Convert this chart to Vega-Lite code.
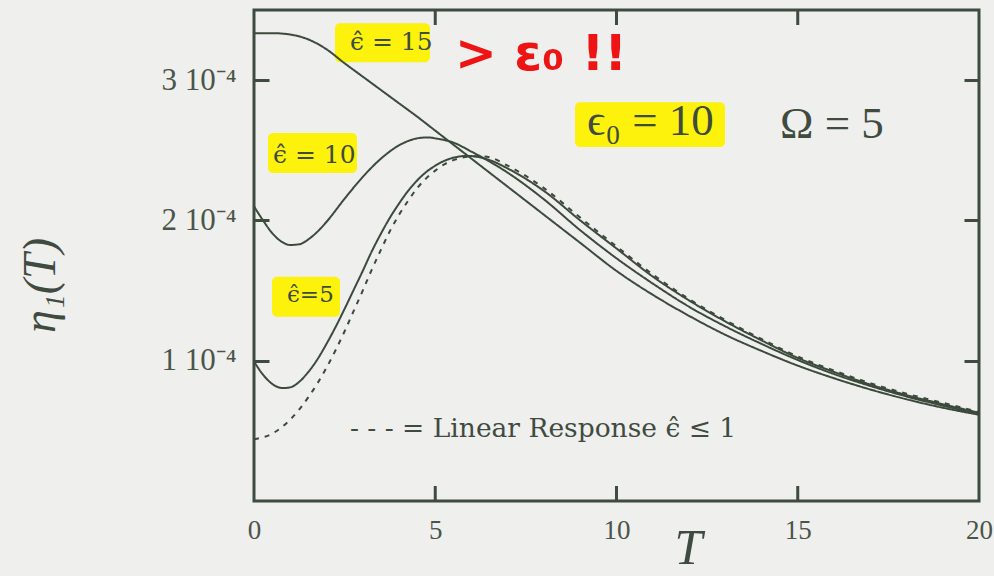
{
  "$schema": "https://vega.github.io/schema/vega-lite/v6.json",
  "width": 725,
  "height": 491,
  "autosize": {"type": "none"},
  "padding": {"left": 254, "top": 10, "right": 15, "bottom": 75},
  "background": "#efefee",
  "config": {
    "view": {"stroke": "#3e4b3e", "strokeWidth": 3},
    "font": "Liberation Serif"
  },
  "resolve": {"axis": {"x": "independent", "y": "independent"}},
  "layer": [
    {
      "description": "highlighter marks behind the curve labels",
      "data": {"values": [
        {"T0": 2.234, "T1": 4.855, "e0": 3.128e-4, "e1": 3.406e-4},
        {"T0": 0.386, "T1": 2.841, "e0": 2.338e-4, "e1": 2.623e-4},
        {"T0": 0.497, "T1": 2.372, "e0": 1.313e-4, "e1": 1.598e-4},
        {"T0": 8.855, "T1": 12.993, "e0": 2.523e-4, "e1": 2.843e-4}
      ]},
      "mark": {"type": "rect", "color": "#fcf20c", "cornerRadius": 5},
      "encoding": {
        "x": {
          "field": "T0", "type": "quantitative",
          "scale": {"domain": [0, 20], "nice": false},
          "axis": {
            "orient": "bottom", "domain": false, "ticks": false, "zindex": 1,
            "values": [0, 5, 10, 15, 20],
            "title": "T", "titleFont": "Liberation Serif", "titleFontStyle": "italic",
            "titleFontWeight": "normal", "titleFontSize": 50, "titleColor": "#3f4b3f",
            "titleX": 434, "titleY": 62, "titleBaseline": "alphabetic", "titleAlign": "center",
            "labelFont": "Liberation Serif", "labelFontSize": 27, "labelColor": "#4a5548",
            "labelPadding": 16, "labelFlush": false, "labelOverlap": false, "grid": false
          }
        },
        "x2": {"field": "T1"},
        "y": {
          "field": "e0", "type": "quantitative",
          "scale": {"domain": [0, 0.00035], "nice": false, "zero": true},
          "axis": {
            "orient": "left", "offset": -15, "domain": false, "zindex": 1,
            "values": [0.0001, 0.0002, 0.0003],
            "labelExpr": "format(datum.value * 10000, '.0f') + ' 10⁻⁴'",
            "title": "η₁(T)", "titleFont": "Liberation Serif", "titleFontStyle": "italic",
            "titleFontWeight": "normal", "titleFontSize": 46, "titleColor": "#3f4b3f",
            "titleAngle": -90, "titleX": -229, "titleY": 275,
            "titleBaseline": "middle", "titleAlign": "center",
            "labelFont": "Liberation Serif", "labelFontSize": 31, "labelColor": "#4a5548",
            "labelPadding": 18, "labelBaseline": "middle",
            "tickSize": 15, "tickWidth": 3, "tickColor": "#3e4b3e", "grid": false
          }
        },
        "y2": {"field": "e1"}
      }
    },
    {
      "description": "eta_1(T) for three field strengths and the linear-response limit",
      "data": {"values": [
        {"s": "eps15", "T": 0, "eta": 3.335e-4},
        {"s": "eps15", "T": 0.5, "eta": 3.335e-4},
        {"s": "eps15", "T": 1, "eta": 3.325e-4},
        {"s": "eps15", "T": 1.5, "eta": 3.29e-4},
        {"s": "eps15", "T": 2, "eta": 3.22e-4},
        {"s": "eps15", "T": 2.5, "eta": 3.12e-4},
        {"s": "eps15", "T": 3, "eta": 3.025e-4},
        {"s": "eps15", "T": 3.5, "eta": 2.93e-4},
        {"s": "eps15", "T": 4, "eta": 2.835e-4},
        {"s": "eps15", "T": 4.5, "eta": 2.74e-4},
        {"s": "eps15", "T": 5, "eta": 2.64e-4},
        {"s": "eps15", "T": 5.5, "eta": 2.54e-4},
        {"s": "eps15", "T": 6, "eta": 2.44e-4},
        {"s": "eps15", "T": 6.5, "eta": 2.34e-4},
        {"s": "eps15", "T": 7, "eta": 2.24e-4},
        {"s": "eps15", "T": 8, "eta": 2.04e-4},
        {"s": "eps15", "T": 9, "eta": 1.84e-4},
        {"s": "eps15", "T": 10, "eta": 1.64e-4},
        {"s": "eps15", "T": 11, "eta": 1.47e-4},
        {"s": "eps15", "T": 12, "eta": 1.32e-4},
        {"s": "eps15", "T": 13, "eta": 1.185e-4},
        {"s": "eps15", "T": 14, "eta": 1.07e-4},
        {"s": "eps15", "T": 15, "eta": 0.965e-4},
        {"s": "eps15", "T": 16, "eta": 0.875e-4},
        {"s": "eps15", "T": 17, "eta": 0.795e-4},
        {"s": "eps15", "T": 18, "eta": 0.725e-4},
        {"s": "eps15", "T": 19, "eta": 0.665e-4},
        {"s": "eps15", "T": 20, "eta": 0.615e-4},

        {"s": "eps10", "T": 0, "eta": 2.1e-4},
        {"s": "eps10", "T": 0.25, "eta": 2.0e-4},
        {"s": "eps10", "T": 0.5, "eta": 1.91e-4},
        {"s": "eps10", "T": 0.75, "eta": 1.85e-4},
        {"s": "eps10", "T": 1, "eta": 1.825e-4},
        {"s": "eps10", "T": 1.25, "eta": 1.83e-4},
        {"s": "eps10", "T": 1.5, "eta": 1.865e-4},
        {"s": "eps10", "T": 1.75, "eta": 1.92e-4},
        {"s": "eps10", "T": 2, "eta": 1.99e-4},
        {"s": "eps10", "T": 2.5, "eta": 2.155e-4},
        {"s": "eps10", "T": 3, "eta": 2.31e-4},
        {"s": "eps10", "T": 3.5, "eta": 2.44e-4},
        {"s": "eps10", "T": 4, "eta": 2.535e-4},
        {"s": "eps10", "T": 4.5, "eta": 2.585e-4},
        {"s": "eps10", "T": 4.8, "eta": 2.592e-4},
        {"s": "eps10", "T": 5, "eta": 2.585e-4},
        {"s": "eps10", "T": 5.5, "eta": 2.555e-4},
        {"s": "eps10", "T": 6, "eta": 2.49e-4},
        {"s": "eps10", "T": 6.5, "eta": 2.42e-4},
        {"s": "eps10", "T": 7, "eta": 2.34e-4},
        {"s": "eps10", "T": 8, "eta": 2.15e-4},
        {"s": "eps10", "T": 9, "eta": 1.93e-4},
        {"s": "eps10", "T": 10, "eta": 1.73e-4},
        {"s": "eps10", "T": 11, "eta": 1.55e-4},
        {"s": "eps10", "T": 12, "eta": 1.385e-4},
        {"s": "eps10", "T": 13, "eta": 1.245e-4},
        {"s": "eps10", "T": 14, "eta": 1.12e-4},
        {"s": "eps10", "T": 15, "eta": 1.005e-4},
        {"s": "eps10", "T": 16, "eta": 0.905e-4},
        {"s": "eps10", "T": 17, "eta": 0.82e-4},
        {"s": "eps10", "T": 18, "eta": 0.745e-4},
        {"s": "eps10", "T": 19, "eta": 0.68e-4},
        {"s": "eps10", "T": 20, "eta": 0.62e-4},

        {"s": "eps5", "T": 0, "eta": 0.995e-4},
        {"s": "eps5", "T": 0.25, "eta": 0.9e-4},
        {"s": "eps5", "T": 0.5, "eta": 0.835e-4},
        {"s": "eps5", "T": 0.8, "eta": 0.805e-4},
        {"s": "eps5", "T": 1, "eta": 0.81e-4},
        {"s": "eps5", "T": 1.25, "eta": 0.85e-4},
        {"s": "eps5", "T": 1.5, "eta": 0.92e-4},
        {"s": "eps5", "T": 1.75, "eta": 1.01e-4},
        {"s": "eps5", "T": 2, "eta": 1.12e-4},
        {"s": "eps5", "T": 2.25, "eta": 1.24e-4},
        {"s": "eps5", "T": 2.5, "eta": 1.37e-4},
        {"s": "eps5", "T": 2.75, "eta": 1.505e-4},
        {"s": "eps5", "T": 3, "eta": 1.64e-4},
        {"s": "eps5", "T": 3.25, "eta": 1.78e-4},
        {"s": "eps5", "T": 3.5, "eta": 1.905e-4},
        {"s": "eps5", "T": 3.75, "eta": 2.02e-4},
        {"s": "eps5", "T": 4, "eta": 2.12e-4},
        {"s": "eps5", "T": 4.25, "eta": 2.21e-4},
        {"s": "eps5", "T": 4.5, "eta": 2.285e-4},
        {"s": "eps5", "T": 4.75, "eta": 2.345e-4},
        {"s": "eps5", "T": 5, "eta": 2.39e-4},
        {"s": "eps5", "T": 5.25, "eta": 2.425e-4},
        {"s": "eps5", "T": 5.5, "eta": 2.447e-4},
        {"s": "eps5", "T": 5.9, "eta": 2.46e-4},
        {"s": "eps5", "T": 6.5, "eta": 2.43e-4},
        {"s": "eps5", "T": 7, "eta": 2.37e-4},
        {"s": "eps5", "T": 8, "eta": 2.21e-4},
        {"s": "eps5", "T": 9, "eta": 2.0e-4},
        {"s": "eps5", "T": 10, "eta": 1.8e-4},
        {"s": "eps5", "T": 11, "eta": 1.6e-4},
        {"s": "eps5", "T": 12, "eta": 1.43e-4},
        {"s": "eps5", "T": 13, "eta": 1.28e-4},
        {"s": "eps5", "T": 14, "eta": 1.145e-4},
        {"s": "eps5", "T": 15, "eta": 1.02e-4},
        {"s": "eps5", "T": 16, "eta": 0.92e-4},
        {"s": "eps5", "T": 17, "eta": 0.83e-4},
        {"s": "eps5", "T": 18, "eta": 0.755e-4},
        {"s": "eps5", "T": 19, "eta": 0.69e-4},
        {"s": "eps5", "T": 20, "eta": 0.63e-4},

        {"s": "linear", "T": 0, "eta": 0.44e-4},
        {"s": "linear", "T": 0.5, "eta": 0.48e-4},
        {"s": "linear", "T": 1, "eta": 0.58e-4},
        {"s": "linear", "T": 1.5, "eta": 0.74e-4},
        {"s": "linear", "T": 2, "eta": 0.95e-4},
        {"s": "linear", "T": 2.25, "eta": 1.075e-4},
        {"s": "linear", "T": 2.5, "eta": 1.21e-4},
        {"s": "linear", "T": 2.75, "eta": 1.355e-4},
        {"s": "linear", "T": 3, "eta": 1.5e-4},
        {"s": "linear", "T": 3.25, "eta": 1.65e-4},
        {"s": "linear", "T": 3.5, "eta": 1.79e-4},
        {"s": "linear", "T": 3.75, "eta": 1.925e-4},
        {"s": "linear", "T": 4, "eta": 2.04e-4},
        {"s": "linear", "T": 4.25, "eta": 2.14e-4},
        {"s": "linear", "T": 4.5, "eta": 2.23e-4},
        {"s": "linear", "T": 4.75, "eta": 2.3e-4},
        {"s": "linear", "T": 5, "eta": 2.355e-4},
        {"s": "linear", "T": 5.25, "eta": 2.4e-4},
        {"s": "linear", "T": 5.5, "eta": 2.43e-4},
        {"s": "linear", "T": 5.75, "eta": 2.448e-4},
        {"s": "linear", "T": 6, "eta": 2.457e-4},
        {"s": "linear", "T": 6.25, "eta": 2.458e-4},
        {"s": "linear", "T": 6.5, "eta": 2.45e-4},
        {"s": "linear", "T": 7, "eta": 2.39e-4},
        {"s": "linear", "T": 8, "eta": 2.23e-4},
        {"s": "linear", "T": 9, "eta": 2.02e-4},
        {"s": "linear", "T": 10, "eta": 1.815e-4},
        {"s": "linear", "T": 11, "eta": 1.615e-4},
        {"s": "linear", "T": 12, "eta": 1.44e-4},
        {"s": "linear", "T": 13, "eta": 1.29e-4},
        {"s": "linear", "T": 14, "eta": 1.155e-4},
        {"s": "linear", "T": 15, "eta": 1.03e-4},
        {"s": "linear", "T": 16, "eta": 0.93e-4},
        {"s": "linear", "T": 17, "eta": 0.84e-4},
        {"s": "linear", "T": 18, "eta": 0.765e-4},
        {"s": "linear", "T": 19, "eta": 0.7e-4},
        {"s": "linear", "T": 20, "eta": 0.635e-4}
      ]},
      "mark": {"type": "line", "interpolate": "monotone", "strokeWidth": 2, "color": "#3b4a3b"},
      "encoding": {
        "x": {
          "field": "T", "type": "quantitative",
          "scale": {"domain": [0, 20], "nice": false},
          "axis": null
        },
        "y": {
          "field": "eta", "type": "quantitative",
          "scale": {"domain": [0, 0.00035], "nice": false, "zero": true},
          "axis": {
            "orient": "right", "offset": -15, "domain": false, "zindex": 1,
            "values": [0.0001, 0.0002, 0.0003], "labels": false, "title": null,
            "tickSize": 15, "tickWidth": 3, "tickColor": "#3e4b3e", "grid": false
          }
        },
        "detail": {"field": "s"},
        "strokeDash": {
          "field": "s", "type": "nominal", "legend": null,
          "scale": {"domain": ["eps15", "eps10", "eps5", "linear"], "range": [[1, 0], [1, 0], [1, 0], [5, 6]]}
        }
      }
    },
    {
      "description": "inward T ticks on the bottom and top edges, one short segment per tick",
      "data": {"values": [
        {"tick": "b5", "T": 5, "eta": 0},
        {"tick": "b5", "T": 5, "eta": 0.107e-4},
        {"tick": "b10", "T": 10, "eta": 0},
        {"tick": "b10", "T": 10, "eta": 0.107e-4},
        {"tick": "b15", "T": 15, "eta": 0},
        {"tick": "b15", "T": 15, "eta": 0.107e-4},
        {"tick": "t5", "T": 5, "eta": 3.5e-4},
        {"tick": "t5", "T": 5, "eta": 3.393e-4},
        {"tick": "t10", "T": 10, "eta": 3.5e-4},
        {"tick": "t10", "T": 10, "eta": 3.393e-4},
        {"tick": "t15", "T": 15, "eta": 3.5e-4},
        {"tick": "t15", "T": 15, "eta": 3.393e-4}
      ]},
      "mark": {"type": "line", "strokeWidth": 3, "strokeCap": "butt", "color": "#3e4b3e"},
      "encoding": {
        "x": {"field": "T", "type": "quantitative", "axis": null},
        "y": {"field": "eta", "type": "quantitative", "axis": null},
        "detail": {"field": "tick"}
      }
    },
    {
      "data": {"values": [
        {"label": "ϵ̂ = 15", "T": 2.648, "eta": 3.214e-4},
        {"label": "ϵ̂ = 10", "T": 0.524, "eta": 2.409e-4}
      ]},
      "mark": {"type": "text", "align": "left", "baseline": "alphabetic", "font": "DejaVu Serif", "fontSize": 25, "color": "#3f4b3f"},
      "encoding": {
        "x": {"field": "T", "type": "quantitative", "axis": null},
        "y": {"field": "eta", "type": "quantitative", "axis": null},
        "text": {"field": "label"}
      }
    },
    {
      "data": {"values": [
        {"label": "ϵ̂=5", "T": 0.91, "eta": 1.42e-4}
      ]},
      "mark": {"type": "text", "align": "left", "baseline": "alphabetic", "font": "DejaVu Serif", "fontSize": 23, "color": "#3f4b3f"},
      "encoding": {
        "x": {"field": "T", "type": "quantitative", "axis": null},
        "y": {"field": "eta", "type": "quantitative", "axis": null},
        "text": {"field": "label"}
      }
    },
    {
      "data": {"values": [
        {"label": "ϵ₀ = 10", "T": 9.186, "eta": 2.609e-4},
        {"label": "Ω = 5", "T": 14.51, "eta": 2.587e-4}
      ]},
      "mark": {"type": "text", "align": "left", "baseline": "alphabetic", "font": "Liberation Serif, DejaVu Serif", "fontSize": 45, "color": "#3f4b3f"},
      "encoding": {
        "x": {"field": "T", "type": "quantitative", "axis": null},
        "y": {"field": "eta", "type": "quantitative", "axis": null},
        "text": {"field": "label"}
      }
    },
    {
      "data": {"values": [
        {"label": "> ε₀ !!", "T": 5.545, "eta": 3.07e-4}
      ]},
      "mark": {"type": "text", "align": "left", "baseline": "alphabetic", "font": "DejaVu Sans", "fontWeight": "bold", "fontSize": 50, "color": "#ee1414"},
      "encoding": {
        "x": {"field": "T", "type": "quantitative", "axis": null},
        "y": {"field": "eta", "type": "quantitative", "axis": null},
        "text": {"field": "label"}
      }
    },
    {
      "data": {"values": [
        {"label": "- - - = Linear Response ϵ̂ ≤ 1", "T": 2.648, "eta": 0.459e-4}
      ]},
      "mark": {"type": "text", "align": "left", "baseline": "alphabetic", "font": "DejaVu Serif", "fontSize": 26.5, "color": "#3f4b3f"},
      "encoding": {
        "x": {"field": "T", "type": "quantitative", "axis": null},
        "y": {"field": "eta", "type": "quantitative", "axis": null},
        "text": {"field": "label"}
      }
    }
  ]
}
